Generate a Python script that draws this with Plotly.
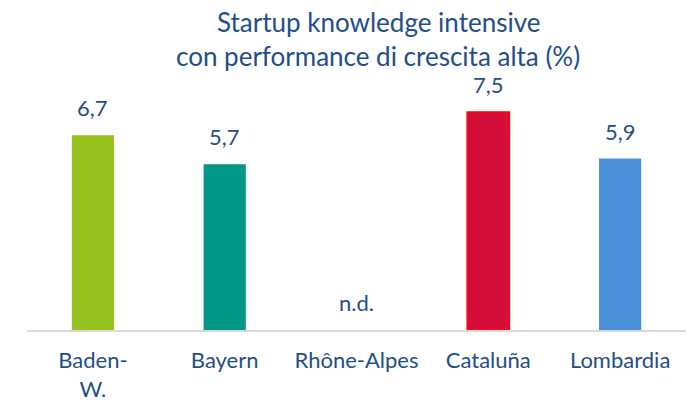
import plotly.graph_objects as go

categories = ["Baden-W.", "Bayern", "Rhône-Alpes", "Cataluña", "Lombardia"]
tick_labels = ["Baden-<br>W.", "Bayern", "Rhône-Alpes", "Cataluña", "Lombardia"]
values = [6.7, 5.7, None, 7.5, 5.9]
value_labels = ["6,7", "5,7", "n.d.", "7,5", "5,9"]
colors = ["#95C11F", "#009688", "#FFFFFF", "#D50F3A", "#4A90D9"]
outline = ["#95C11F", "#009688", "#FFFFFF", "#FF0000", "#4A90D9"]
title_lines = ["Startup knowledge intensive", "con performance di crescita alta (%)"]

TXT = "#1F4E8C"
FONT = "Lato"

fig = go.Figure()
fig.add_trace(go.Bar(
    x=categories, y=[v if v is not None else 0 for v in values],
    marker=dict(color=colors, line=dict(color=outline, width=[0, 0, 0, 1.5, 0])),
    width=0.32, hoverinfo="skip",
))

for c, v, lab in zip(categories, values, value_labels):
    fig.add_annotation(x=c, y=v if v is not None else 0, text=lab, showarrow=False,
                       yanchor="bottom", yshift=12,
                       font=dict(size=22, color=TXT, family=FONT))

for line, ypos in zip(title_lines, [1.245, 1.111]):
    fig.add_annotation(xref="paper", yref="paper", x=0.533, y=ypos, text=line,
                       showarrow=False, xanchor="center", yanchor="middle",
                       borderpad=0, font=dict(size=26, color=TXT, family=FONT))

fig.update_layout(
    width=692, height=406,
    margin=dict(l=27, r=6, t=83, b=76),
    paper_bgcolor="white", plot_bgcolor="white",
    showlegend=False,
    font=dict(family=FONT, color=TXT),
)
fig.update_xaxes(tickmode="array", tickvals=categories, ticktext=tick_labels,
                 showline=True, linecolor="#D9D9D9", linewidth=2,
                 tickfont=dict(size=22, color=TXT, family=FONT), ticks="",
                 ticklabelstandoff=10, automargin=False,
                 showgrid=False, zeroline=False)
fig.update_yaxes(range=[0, 8.5], visible=False, showgrid=False, zeroline=False,
                 automargin=False)

fig.write_html("out.html", config={"displayModeBar": False},
               post_script="document.body.style.margin='0';")
